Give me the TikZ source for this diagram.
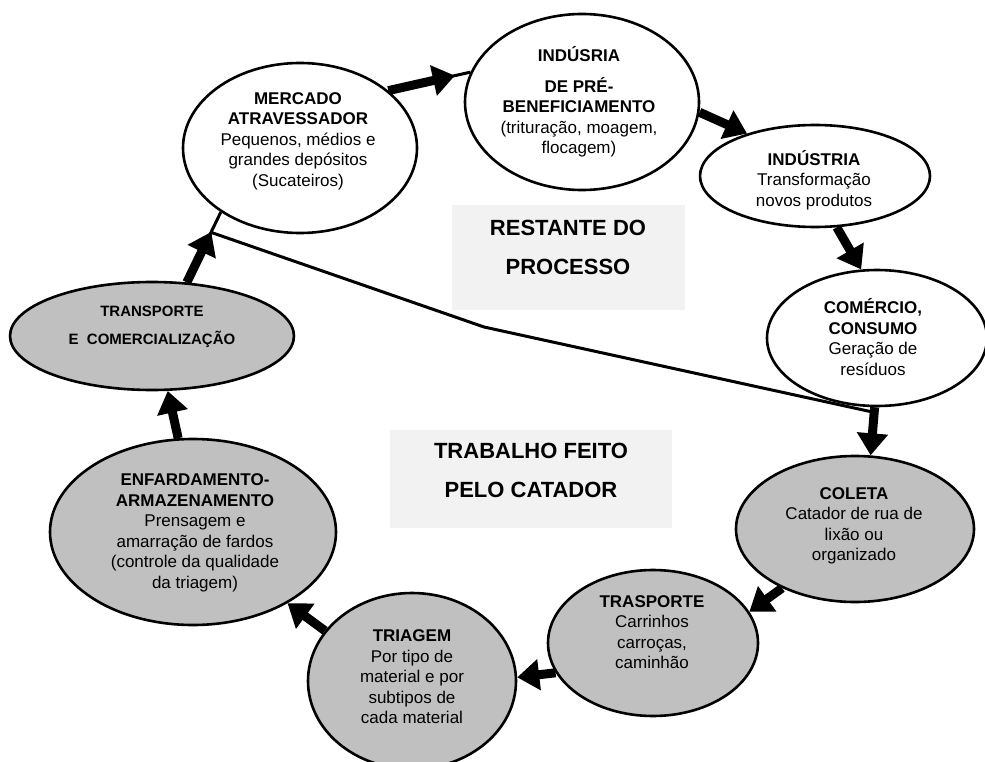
\documentclass[tikz,border=0pt]{standalone}
\usepackage{fontspec}
\setmainfont{Liberation Sans}
\usetikzlibrary{shapes.geometric,arrows.meta}
\definecolor{cyclegray}{RGB}{192,192,192}
\definecolor{boxgray}{RGB}{242,242,242}
\begin{document}
\begin{tikzpicture}[x=1pt,y=-1pt,
  stage/.style={ellipse, draw=black, line width=2.6pt, inner sep=0pt},
  whitestage/.style={stage, fill=white},
  graystage/.style={stage, fill=cyclegray},
  stagetext/.style={align=center, inner sep=0pt, font=\fontsize{17}{20.5}\selectfont},
  smalltext/.style={align=center, inner sep=0pt, font=\fontsize{15}{28}\selectfont\bfseries},
  areabox/.style={fill=boxgray, draw=none, inner sep=0pt},
  areatext/.style={align=center, inner sep=0pt, font=\fontsize{22}{39}\selectfont\bfseries},
  link/.style={line width=3pt},
  flow/.style={line width=9pt, -{Triangle[width=30pt,length=22pt]}},
]
\useasboundingbox (0,0) rectangle (985,762);

% shaded areas in the middle
\node[areabox, minimum width=233pt, minimum height=105pt] (restbox) at (568.5,257.5) {};
\node[areatext] (resttext) at (568,247) {RESTANTE DO\\PROCESSO};
\node[areabox, minimum width=282pt, minimum height=98pt] (catbox) at (531,479) {};
\node[areatext] (cattext) at (531,470) {TRABALHO FEITO\\PELO CATADOR};

% stages of the chain
\node[whitestage, minimum width=234pt, minimum height=170pt] (merc) at (300,148) {};
\node[whitestage, minimum width=234pt, minimum height=176pt] (pre)  at (582,102) {};
\node[whitestage, minimum width=230pt, minimum height=102pt] (ind)  at (815,176) {};
\node[whitestage, minimum width=220pt, minimum height=136pt] (com)  at (877,338) {};
\node[graystage,  minimum width=238pt, minimum height=146pt] (col)  at (855,529) {};
\node[graystage,  minimum width=210pt, minimum height=146pt] (tra)  at (653,643) {};
\node[graystage,  minimum width=208pt, minimum height=176pt] (tri)  at (412,681) {};
\node[graystage,  minimum width=286pt, minimum height=186pt] (enf)  at (193,532) {};
\node[graystage,  minimum width=284pt, minimum height=108pt] (tcom) at (152,336) {};

% stage texts
\node[stagetext] (merc-t) at (298,141) {\textbf{MERCADO}\\\textbf{ATRAVESSADOR}\\Pequenos, médios e\\grandes depósitos\\(Sucateiros)};
\node[stagetext] (pre-t) at (579,102) {\textbf{INDÚSRIA}\\[10pt]\textbf{DE PRÉ-}\\\textbf{BENEFICIAMENTO}\\(trituração, moagem,\\flocagem)};
\node[stagetext] (ind-t) at (814,180) {\textbf{INDÚSTRIA}\\Transformação\\novos produtos};
\node[stagetext] (com-t) at (873,337) {\textbf{COMÉRCIO,}\\\textbf{CONSUMO}\\Geração de\\resíduos};
\node[stagetext] (col-t) at (854,526) {\textbf{COLETA}\\Catador de rua de\\lixão ou\\organizado};
\node[stagetext] (tra-t) at (652,632) {\textbf{TRASPORTE}\\Carrinhos\\carroças,\\caminhão};
\node[stagetext] (tri-t) at (412,677) {\textbf{TRIAGEM}\\Por tipo de\\material e por\\subtipos de\\cada material};
\node[stagetext] (enf-t) at (195,533) {\textbf{ENFARDAMENTO-}\\\textbf{ARMAZENAMENTO}\\Prensagem e\\amarração de fardos\\(controle da qualidade\\da triagem)};
\node[smalltext] (tcom-t) at (152,327) {TRANSPORTE\\E\ \ COMERCIALIZAÇÃO};

% return line from the trade back to consumption
\coordinate (lstart) at (210,232);
\coordinate (lbend) at (484,327);
\coordinate (lend) at (877,413);
\draw[link] (lstart) -- (lbend) -- (lend);

% flow arrows
\draw[link] (tcom.57) -- (merc.-141);
\draw[flow, shorten >=22pt] (tcom.57) -- (merc.-141);
\draw[link] (merc.33) -- (pre.165);
\draw[flow, shorten >=16pt] (merc.33) -- (pre.165);
\draw[flow] (pre.-5) -- (ind.148);
\draw[flow] (ind.-67) -- (com.103);
\draw[flow] (com.-92) -- (col.78);
\draw[flow] (col.-141) -- (tra.18);
\draw[flow] (tra.-163) -- (tri.2);
\draw[flow] (tri.150) -- (enf.-37);
\draw[flow] (enf.99) -- (tcom.-74);
\end{tikzpicture}
\end{document}
